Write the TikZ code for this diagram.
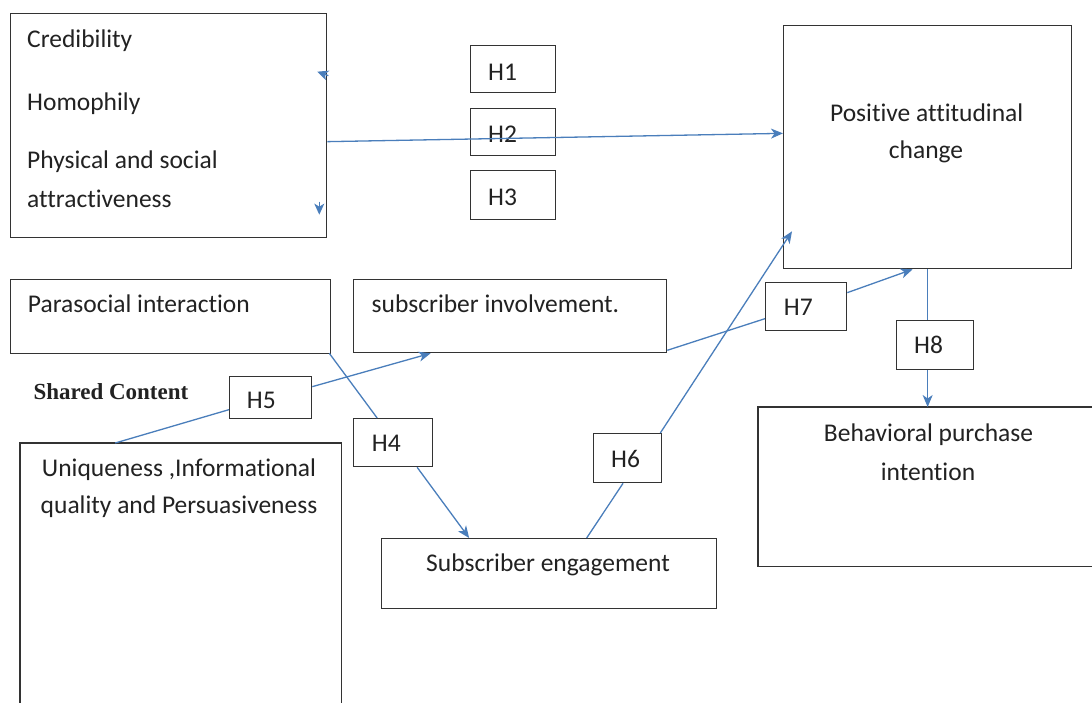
\documentclass[tikz,border=0pt]{standalone}
\usepackage{fontspec}
\setmainfont[Ligatures={NoCommon,NoContextual,NoRare},Contextuals=NoAlternate]{Carlito}
\newfontfamily\serifbold{Liberation Serif}
\usetikzlibrary{arrows.meta,calc}
\newcommand{\nl}{\kern0pt }
\definecolor{lineblue}{HTML}{4A7EBB}
\definecolor{boxgray}{HTML}{333333}
\definecolor{inktext}{HTML}{222222}
\tikzset{
  box/.style={draw=boxgray, line width=1.3pt, rectangle, inner sep=0pt, anchor=north west},
  openbox/.style={rectangle, inner sep=0pt, anchor=north west},
  boxline/.style={draw=boxgray, line width=1.3pt},
  lbl/.style={inner sep=0pt, anchor=base west, text=inktext, font=\fontsize{25.5}{30}\selectfont},
  clbl/.style={lbl, anchor=base},
  link/.style={draw=lineblue, line width=1.3pt},
  arrow/.style={link, -{Stealth[length=12pt,width=10pt,inset=3.5pt]}},
  stray/.style={link, -{Stealth[length=11pt,width=10pt,inset=3pt]}},
}
\begin{document}
\begin{tikzpicture}[x=1pt,y=-1pt]
\useasboundingbox[fill=white] (0,0) rectangle (1092,702);

% boxes
\node[box, minimum width=316pt, minimum height=224pt] (A) at (10,13) {};
\node[box, minimum width=85pt, minimum height=47pt] (H1) at (470,45) {};
\node[box, minimum width=85pt, minimum height=47pt] (H2) at (470,108) {};
\node[box, minimum width=85pt, minimum height=49pt] (H3) at (470,170) {};
\node[box, minimum width=288pt, minimum height=243pt] (P) at (783,25) {};
\node[box, minimum width=320pt, minimum height=74pt] (PI) at (10,279) {};
\node[box, minimum width=313pt, minimum height=73pt] (SI) at (353,279) {};
\node[box, minimum width=82pt, minimum height=42pt] (H5) at (229,376) {};
\node[box, minimum width=79pt, minimum height=48pt] (H4) at (353,418) {};
\node[openbox, minimum width=321pt, minimum height=262pt] (U) at (20,443) {};
\draw[boxline] (U.south west) -- (U.north west) -- (U.north east) -- (U.south east);
\node[box, minimum width=68pt, minimum height=49pt] (H6) at (593,433) {};
\node[box, minimum width=81pt, minimum height=48pt] (H7) at (765,282) {};
\node[box, minimum width=77pt, minimum height=49pt] (H8) at (896,320) {};
\node[box, minimum width=335pt, minimum height=70pt] (SE) at (381,538) {};
\node[openbox, minimum width=334pt, minimum height=159pt] (B) at (758,407) {};
\draw[boxline] (B.north east) -- (B.north west) -- (B.south west) -- (B.south east);

% texts
\node[lbl] (tcred) at (27,47) {Credibility};
\node[lbl] (thomo) at (27,110) {Homophily};
\node[lbl] (tphys) at (27,168) {Physical and social};
\node[lbl] (tattr) at (27,207) {attract\nl iveness};
\node[lbl] (th1) at (488,80) {H1};
\node[lbl] (th2) at (488,142) {H2};
\node[lbl] (th3) at (488,205) {H3};
\node[clbl] (tpos) at (926.7,121) {Positive att\nl it\nl udinal};
\node[clbl] (tchg) at (926,158.3) {change};
\node[lbl] (tpara) at (27.7,312.7) {Parasocial interact\nl ion};
\node[lbl] (tsub) at (371.5,312.7) {subscriber involvement.};
\node[inner sep=0pt, anchor=base west, text=inktext, font=\serifbold\bfseries\fontsize{23}{28}\selectfont] (tshared) at (33.3,399.3) {Shared Content};
\node[lbl] (th5) at (246.7,408.3) {H5};
\node[lbl] (th4) at (371.7,451) {H4};
\node[clbl] (tuni1) at (179,476.7) {Uniqueness ,Informational};
\node[clbl] (tuni2) at (179,513.3) {quality and Persuasiveness};
\node[lbl] (th6) at (611,467.7) {H6};
\node[lbl] (th7) at (783.7,315) {H7};
\node[lbl] (th8) at (914,353) {H8};
\node[clbl] (tse) at (548,571.7) {Subscriber engagement};
\node[clbl] (tbeh) at (928.5,441.7) {Behavioral purchase};
\node[clbl] (tint) at (928,480) {intent\nl ion};

% connectors
% H1-H3 main arrow
\draw[arrow] ([yshift=-16pt]A.east) -- ([yshift=13.8pt]P.west);
% stray arrowheads at right of box A
\coordinate (s1a) at ([xshift=1pt,yshift=50pt]A.east);
\coordinate (s1b) at ([xshift=-10pt,yshift=54pt]A.east);
\draw[stray] (s1a) -- (s1b);
\coordinate (s2a) at ([xshift=-8pt,yshift=-76pt]A.east);
\coordinate (s2b) at ([xshift=-8pt,yshift=-89pt]A.east);
\draw[stray] (s2a) -- (s2b);
% H4
\draw[link] ([xshift=-2pt,yshift=1pt]PI.south east) -- ([xshift=-16pt]H4.north);
\draw[arrow] ([xshift=24pt]H4.south) -- ([xshift=-80pt]SE.north);
% H5
\draw[link] ([xshift=-65.5pt]U.north) -- ([yshift=-12pt]H5.west);
\draw[arrow] ([yshift=11pt]H5.east) -- ([xshift=-79.5pt]SI.south);
% H6
\draw[link] ([xshift=37.5pt]SE.north) -- ([xshift=-4.6pt]H6.south);
\draw[arrow] ([xshift=-2pt]H6.north east) -- ([xshift=9pt,yshift=38pt]P.south west);
% H7
\draw[link] ([yshift=3pt]SI.south east) -- ([yshift=-12pt]H7.west);
\draw[arrow] ([yshift=14pt]H7.east) -- ([xshift=-15pt]P.south);
% H8
\draw[link] (P.south) -- (P.south |- H8.north);
\draw[arrow] (P.south |- H8.south) -- (P.south |- B.north);
\end{tikzpicture}
\end{document}
